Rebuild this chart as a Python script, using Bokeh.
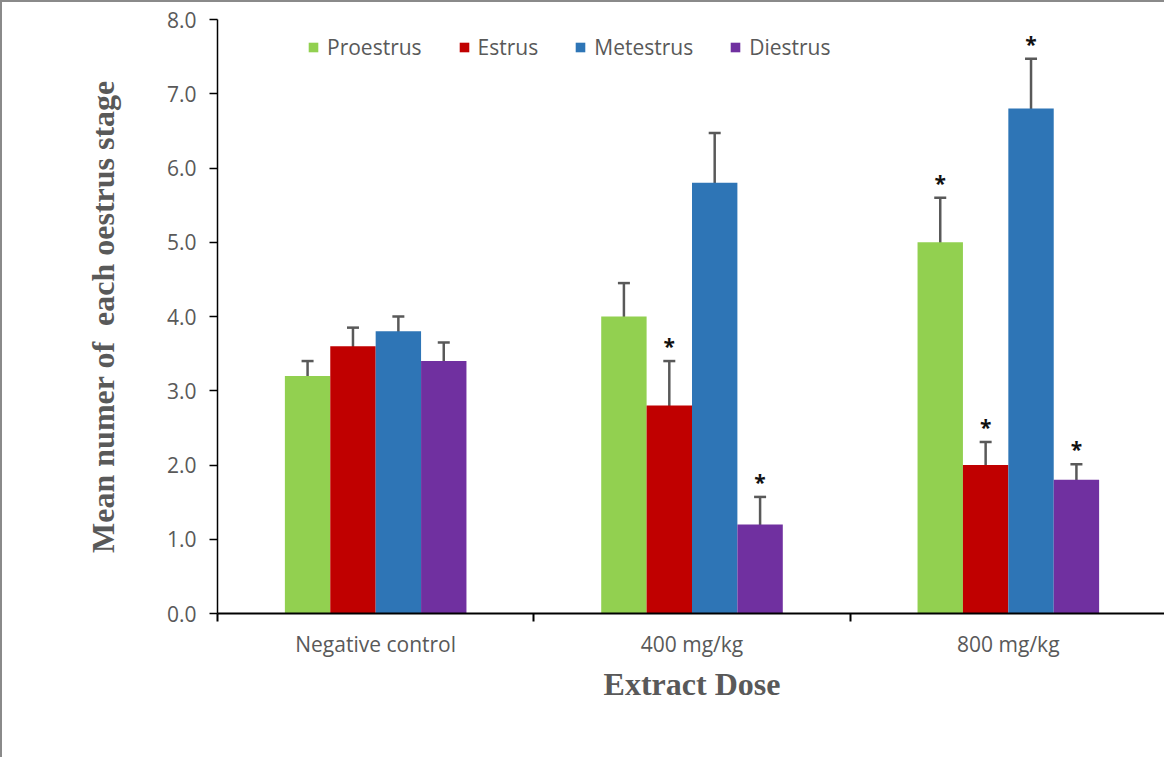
from bokeh.plotting import figure
from bokeh.models import (ColumnDataSource, Whisker, TeeHead, FixedTicker, Range1d,
                          Legend, LegendItem, NumeralTickFormatter)
from bokeh.core.properties import value
from bokeh.embed import file_html
from bokeh.resources import INLINE

# ---- data ----
groups = ["Negative control", "400 mg/kg", "800 mg/kg"]
stages = ["Proestrus", "Estrus", "Metestrus", "Diestrus"]
colors = ["#92D050", "#C00000", "#2E75B6", "#7030A0"]
proestrus = [3.2, 4.0, 5.0]
estrus = [3.6, 2.8, 2.0]
metestrus = [3.8, 5.8, 6.8]
diestrus = [3.4, 1.2, 1.8]
proestrus_err = [0.2, 0.45, 0.6]
estrus_err = [0.25, 0.6, 0.31]
metestrus_err = [0.2, 0.67, 0.67]
diestrus_err = [0.25, 0.37, 0.21]
proestrus_sig = [False, False, True]
estrus_sig = [False, True, True]
metestrus_sig = [False, False, True]
diestrus_sig = [False, True, True]
y_ticks = [0, 1, 2, 3, 4, 5, 6, 7, 8]

series = [proestrus, estrus, metestrus, diestrus]
errors = [proestrus_err, estrus_err, metestrus_err, diestrus_err]
sigs = [proestrus_sig, estrus_sig, metestrus_sig, diestrus_sig]

bar_w = 0.1435
gray = "#595959"

p = figure(width=1164, height=757, output_backend="svg", toolbar_location=None,
           x_range=Range1d(0, 3), y_range=Range1d(0, 8),
           min_border_left=215, min_border_top=17, min_border_right=0, min_border_bottom=146)
p.styles = {"border-left": "2px solid #8a8a8a", "border-top": "2px solid #8a8a8a"}
p.outline_line_color = None
p.xgrid.visible = False
p.ygrid.visible = False
p.background_fill_color = "white"
p.border_fill_color = "white"

items = []
for j, (name, vals, errs, sg, col) in enumerate(zip(stages, series, errors, sigs, colors)):
    xs = [i + 0.5 + (j - 1.5) * bar_w for i in range(len(groups))]
    src = ColumnDataSource(dict(x=xs, top=vals,
                                lower=[v - e for v, e in zip(vals, errs)],
                                upper=[v + e for v, e in zip(vals, errs)]))
    r = p.vbar(x="x", top="top", width=bar_w, bottom=0, source=src,
               fill_color=col, line_color=None)
    items.append(LegendItem(label=name, renderers=[r]))
    w = Whisker(base="x", lower="lower", upper="upper", source=src,
                line_color=gray, line_width=2.5,
                upper_head=TeeHead(size=12, line_color=gray, line_width=2.5),
                lower_head=TeeHead(size=12, line_color=gray, line_width=2.5))
    p.add_layout(w)
    sx = [x for x, s in zip(xs, sg) if s]
    sy = [v + e for v, e, s in zip(vals, errs, sg) if s]
    p.text(x=sx, y=sy, text=["*"] * len(sx), y_offset=-15,
           text_align="center", text_baseline="middle",
           text_font=value("Open Sans"), text_font_style="bold",
           text_font_size="21px", text_color="#111111")

# axes
p.xaxis.ticker = FixedTicker(ticks=[i + 0.5 for i in range(len(groups))],
                             minor_ticks=list(range(len(groups) + 1)))
p.xaxis.major_label_overrides = {i + 0.5: g for i, g in enumerate(groups)}
p.xaxis.major_tick_out = 0
p.xaxis.major_tick_in = 0
p.xaxis.minor_tick_out = 8
p.xaxis.minor_tick_in = 0
p.xaxis.minor_tick_line_color = "black"
p.xaxis.minor_tick_line_width = 2
p.xaxis.axis_line_color = "black"
p.xaxis.axis_line_width = 2
p.xaxis.major_label_text_font = "Open Sans"
p.xaxis.major_label_text_font_size = "21px"
p.xaxis.major_label_text_color = gray
p.xaxis.major_label_standoff = 8
p.xaxis.axis_label = "Extract Dose"
p.xaxis.axis_label_text_font = "Liberation Serif"
p.xaxis.axis_label_text_font_style = "bold"
p.xaxis.axis_label_text_font_size = "32px"
p.xaxis.axis_label_text_color = gray
p.xaxis.axis_label_standoff = 5

p.yaxis.ticker = FixedTicker(ticks=y_ticks)
p.yaxis.formatter = NumeralTickFormatter(format="0.0")
p.yaxis.major_tick_out = 8
p.yaxis.major_tick_in = 0
p.yaxis.minor_tick_line_color = None
p.yaxis.major_tick_line_color = "black"
p.yaxis.major_tick_line_width = 1.5
p.yaxis.axis_line_color = "black"
p.yaxis.axis_line_width = 1.5
p.yaxis.major_label_text_font = "Open Sans"
p.yaxis.major_label_text_font_size = "21px"
p.yaxis.major_label_text_color = gray
p.yaxis.major_label_standoff = 13
p.yaxis.axis_label = "Mean numer of \u00a0each oestrus stage"
p.yaxis.axis_label_text_font = "Liberation Serif"
p.yaxis.axis_label_text_font_style = "bold"
p.yaxis.axis_label_text_font_size = "32px"
p.yaxis.axis_label_text_color = gray
p.yaxis.axis_label_standoff = 43

legend = Legend(items=items, orientation="horizontal", location=(90, 552),
                padding=0, margin=0, spacing=36, label_standoff=8,
                glyph_width=12, glyph_height=12, label_height=18,
                label_text_font="Open Sans", label_text_font_size="21px",
                label_text_color=gray, border_line_color=None,
                background_fill_alpha=0)
p.add_layout(legend, "center")

open("out.html", "w").write(file_html(p, INLINE))
